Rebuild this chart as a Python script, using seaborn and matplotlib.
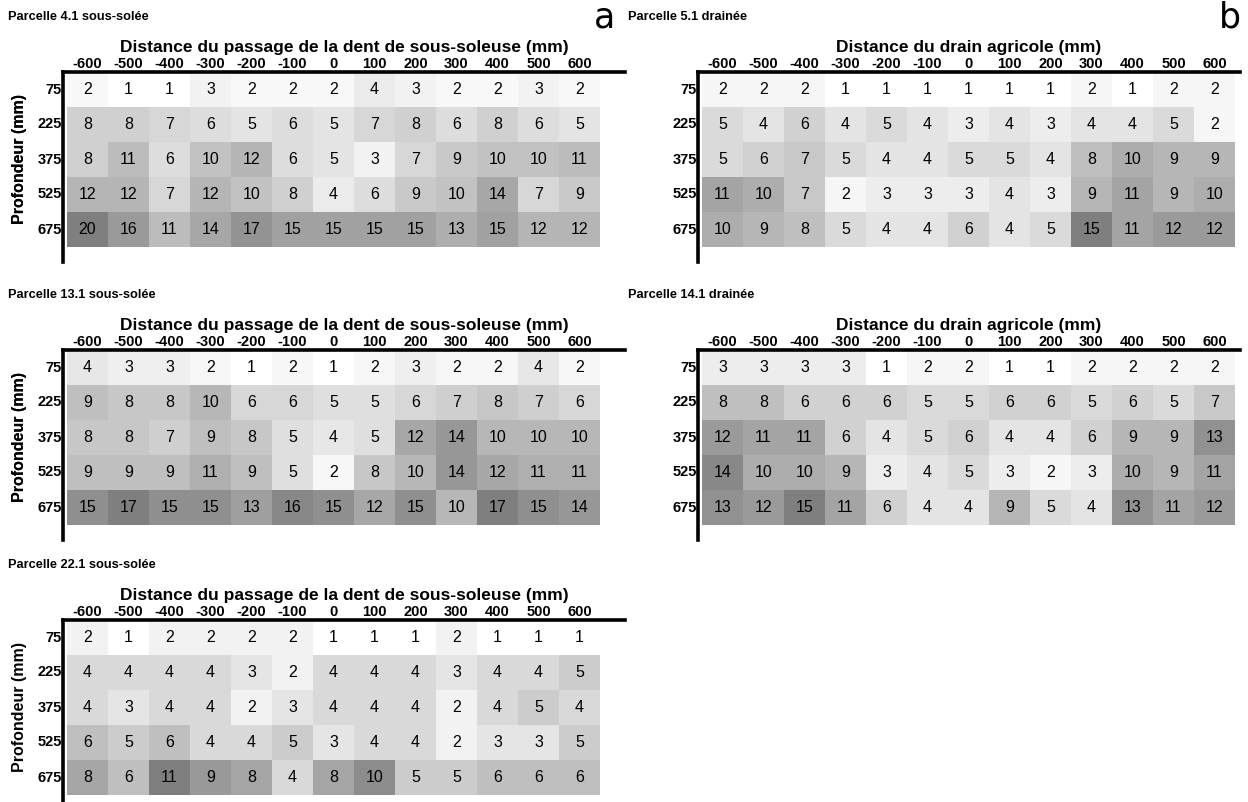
import numpy as np
import pandas as pd
import matplotlib
matplotlib.use("Agg")
import matplotlib.pyplot as plt
import seaborn as sns
from matplotlib.colors import LinearSegmentedColormap

sns.set_theme(style="white")
plt.rcParams['font.family'] = ['Liberation Sans', 'DejaVu Sans']
plt.rcParams['text.color'] = 'black'
plt.rcParams['axes.labelcolor'] = 'black'
plt.rcParams['xtick.color'] = 'black'
plt.rcParams['ytick.color'] = 'black'

distances = [-600, -500, -400, -300, -200, -100, 0, 100, 200, 300, 400, 500, 600]
depths = [75, 225, 375, 525, 675]

p41 = [[2, 1, 1, 3, 2, 2, 2, 4, 3, 2, 2, 3, 2],
       [8, 8, 7, 6, 5, 6, 5, 7, 8, 6, 8, 6, 5],
       [8, 11, 6, 10, 12, 6, 5, 3, 7, 9, 10, 10, 11],
       [12, 12, 7, 12, 10, 8, 4, 6, 9, 10, 14, 7, 9],
       [20, 16, 11, 14, 17, 15, 15, 15, 15, 13, 15, 12, 12]]
p51 = [[2, 2, 2, 1, 1, 1, 1, 1, 1, 2, 1, 2, 2],
       [5, 4, 6, 4, 5, 4, 3, 4, 3, 4, 4, 5, 2],
       [5, 6, 7, 5, 4, 4, 5, 5, 4, 8, 10, 9, 9],
       [11, 10, 7, 2, 3, 3, 3, 4, 3, 9, 11, 9, 10],
       [10, 9, 8, 5, 4, 4, 6, 4, 5, 15, 11, 12, 12]]
p131 = [[4, 3, 3, 2, 1, 2, 1, 2, 3, 2, 2, 4, 2],
        [9, 8, 8, 10, 6, 6, 5, 5, 6, 7, 8, 7, 6],
        [8, 8, 7, 9, 8, 5, 4, 5, 12, 14, 10, 10, 10],
        [9, 9, 9, 11, 9, 5, 2, 8, 10, 14, 12, 11, 11],
        [15, 17, 15, 15, 13, 16, 15, 12, 15, 10, 17, 15, 14]]
p141 = [[3, 3, 3, 3, 1, 2, 2, 1, 1, 2, 2, 2, 2],
        [8, 8, 6, 6, 6, 5, 5, 6, 6, 5, 6, 5, 7],
        [12, 11, 11, 6, 4, 5, 6, 4, 4, 6, 9, 9, 13],
        [14, 10, 10, 9, 3, 4, 5, 3, 2, 3, 10, 9, 11],
        [13, 12, 15, 11, 6, 4, 4, 9, 5, 4, 13, 11, 12]]
p221 = [[2, 1, 2, 2, 2, 2, 1, 1, 1, 2, 1, 1, 1],
        [4, 4, 4, 4, 3, 2, 4, 4, 4, 3, 4, 4, 5],
        [4, 3, 4, 4, 2, 3, 4, 4, 4, 2, 4, 5, 4],
        [6, 5, 6, 4, 4, 5, 3, 4, 4, 2, 3, 3, 5],
        [8, 6, 11, 9, 8, 4, 8, 10, 5, 5, 6, 6, 6]]

xlab_sub = "Distance du passage de la dent de sous-soleuse (mm)"
xlab_drain = "Distance du drain agricole (mm)"

W, H = 1248, 802
fig = plt.figure(figsize=(W / 100, H / 100), dpi=100)
cmap = LinearSegmentedColormap.from_list("g", ["#ffffff", "#7f7f7f"])

CW, RH = 41.0, 35.0  # cell width / row height in px


def panel(data, title, xlabel, left, top, width, letter=None, letter_x=None):
    height = 190
    ax = fig.add_axes([left / W, 1 - (top + height) / H, width / W, height / H])
    arr = np.array(data)
    df = pd.DataFrame(arr, index=depths, columns=distances)
    sns.heatmap(df, ax=ax, cmap=cmap, vmin=arr.min(), vmax=arr.max(), cbar=False,
                annot=True, fmt="d", annot_kws={"fontsize": 11.5, "color": "black"},
                linewidths=0)
    gap = 4.0
    ax.set_xlim(-gap / CW, (width - gap) / CW)
    ax.set_ylim(height / RH, 0)
    for s in ["left", "top"]:
        ax.spines[s].set_visible(True)
        ax.spines[s].set_linewidth(2.6)
        ax.spines[s].set_color("black")
    for s in ["right", "bottom"]:
        ax.spines[s].set_visible(False)
    ax.xaxis.tick_top()
    ax.tick_params(axis="both", length=0)
    ax.tick_params(axis="x", pad=1)
    ax.tick_params(axis="y", pad=1)
    ax.set_xticklabels([str(d) for d in distances], fontsize=10.5, fontweight="bold", rotation=0)
    ax.set_yticklabels([str(d) for d in depths], fontsize=10.5, fontweight="bold", rotation=0)
    ax.xaxis.set_label_position("top")
    ax.set_xlabel(xlabel, fontsize=12.5, fontweight="bold", labelpad=3)
    ax.set_ylabel("Profondeur (mm)", fontsize=11.5, fontweight="bold")
    ax.yaxis.set_label_coords((27 - left) / width, 1 - 87.5 / height)
    tx = (left - 55) if left < 300 else left - 70
    fig.text(tx / W, 1 - (top - 55) / H, title, fontsize=9.2, fontweight="bold",
             ha="left", va="center")
    if letter:
        fig.text(letter_x / W, 1 - (top - 54) / H, letter, fontsize=25,
                 family="DejaVu Sans", ha="center", va="center")
    return ax


panel(p41, "Parcelle 4.1 sous-solée", xlab_sub, 63, 72, 562, "a", 604)
panel(p51, "Parcelle 5.1 drainée", xlab_drain, 698, 72, 542, "b", 1230)
panel(p131, "Parcelle 13.1 sous-solée", xlab_sub, 63, 350, 562)
panel(p141, "Parcelle 14.1 drainée", xlab_drain, 698, 350, 542)
panel(p221, "Parcelle 22.1 sous-solée", xlab_sub, 63, 620, 562)

fig.savefig("out.png", dpi=100)
